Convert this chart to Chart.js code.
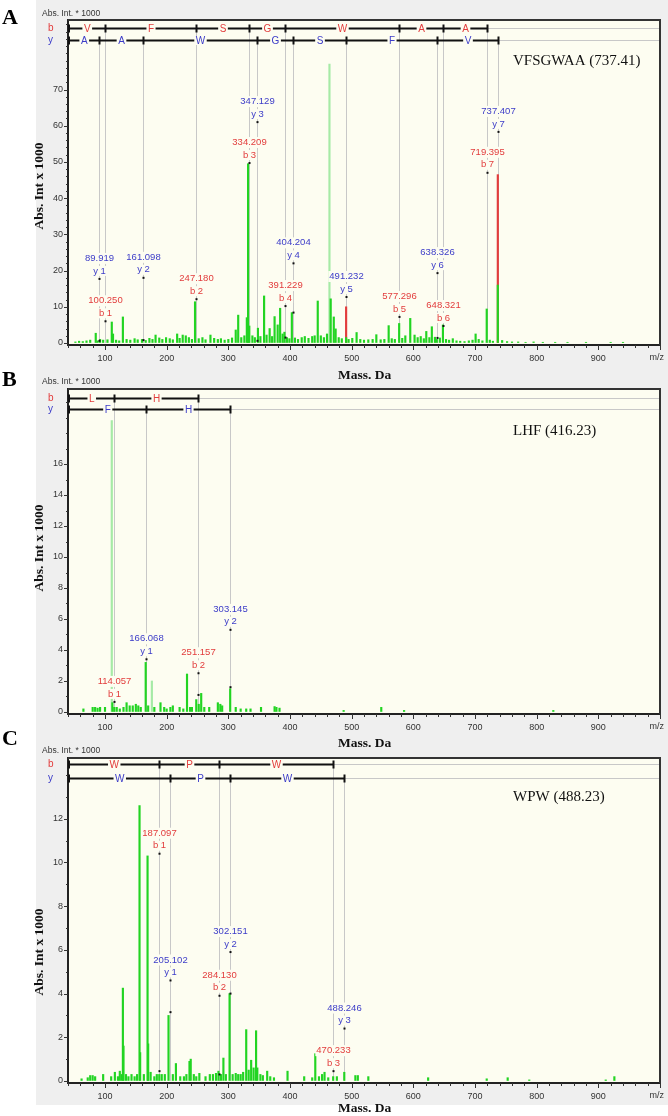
<!DOCTYPE html>
<html><head><meta charset="utf-8">
<script src="https://cdn.jsdelivr.net/npm/chart.js@4.4.1/dist/chart.umd.min.js"></script>
<style>
html,body{margin:0;padding:0;background:#fff;}
body{width:668px;height:1116px;position:relative;overflow:hidden;}
.g{position:absolute;left:36px;width:632px;background:#efefef;}
canvas{position:absolute;left:0;top:0;}
</style></head><body>
<div class="g" style="top:0;height:383px"></div>
<div class="g" style="top:383px;height:365px"></div>
<div class="g" style="top:748px;height:357px"></div>
<canvas id="cA" width="668" height="1116"></canvas>
<canvas id="cB" width="668" height="1116"></canvas>
<canvas id="cC" width="668" height="1116"></canvas>
<script>
// ---------- Panel A : VFSGWAA ----------
const aMz  = [52,58,64,70,76,85,88,92,97,104,111,113,118,123,129,135,141,148,153,160,166,172,177,182,188,193,199,205,210,217,221,226,231,236,241,246,252,258,263,271,277,283,288,294,300,306,312,316,321,326,330,332,334,339,343,348,352,358,362,367,371,375,380,384,388,391,395,399,403,408,413,419,424,430,436,440,445,450,455,460,466,471,474,479,484,491,495,501,508,514,520,527,534,540,547,553,560,565,570,577,582,587,595,602,607,612,617,621,626,630,635,638,643,648,653,658,664,670,676,683,690,696,701,706,712,719,724,729,737,744,752,760,770,782,795,810,830,850,880,920,940];
const aInt = [0.3,0.5,0.4,0.6,0.8,2.7,0.6,1.0,0.8,0.9,5.8,2.5,0.8,0.6,7.2,1.0,0.8,1.2,0.9,1.0,0.7,1.3,1.0,2.2,1.4,1.0,1.5,1.2,0.9,2.5,1.3,2.2,2.0,1.5,1.0,11.4,1.2,1.5,0.9,2.2,1.3,1.0,1.2,0.8,1.0,1.4,3.6,7.7,1.5,2.0,7.0,49.5,4.7,2.0,1.5,4.1,1.8,13.0,2.2,4.0,1.8,7.3,5.0,9.6,2.5,3.0,1.5,1.2,8.4,1.4,1.0,1.5,1.8,1.3,1.8,2.0,11.6,2.0,1.5,2.5,12.2,7.2,3.9,1.5,1.2,1.5,1.0,1.3,2.9,1.0,0.8,0.9,1.0,2.3,0.9,1.0,4.8,1.2,1.0,5.4,1.3,2.0,6.8,2.2,1.5,1.8,1.2,3.2,1.5,4.5,1.6,1.0,1.4,5.0,1.0,0.8,1.2,0.6,0.5,0.4,0.6,0.8,2.5,1.0,0.6,9.4,0.8,0.5,16,0.7,0.4,0.3,0.3,0.2,0.3,0.2,0.2,0.2,0.2,0.2,0.2];
const aFaintMz = [464], aFaintInt = [77];
const aRedMz = [491, 737], aRedInt = [10, 46.5];
const aAnnMz  = [89.919,100.250,161.098,247.180,334.209,347.129,391.229,404.204,491.232,577.296,638.326,648.321,719.395,737.407];
const aAnnIon = ['y 1','b 1','y 2','b 2','b 3','y 3','b 4','y 4','y 5','b 5','y 6','b 6','b 7','y 7'];
const aAnnAt  = [17.7,6,18,12.1,49.7,61,10.2,22,12.7,7.2,19.3,4.7,47,58.3];
const aDotMz = [89.919,161.098,347.129,391.229,404.204,638.326], aDotInt = [0.6,0.8,0.6,1.5,8.4,1.4];
const aBCuts = [100.250,247.180,334.209,391.229,577.296,648.321,719.395], aBRes = ['V','F','S','G','W','A','A'];
const aYCuts = [89.919,161.098,347.129,404.204,491.232,638.326,737.407], aYRes = ['A','A','W','G','S','F','V'];

// ---------- Panel B : LHF ----------
const bMz  = [65,80,84,88,92,100,112,115,119,124,130,135,140,145,150,154,158,166,170,180,190,196,200,206,210,221,227,233,238,241,248,252,256,261,269,283,287,290,303,312,320,329,336,353,375,378,383,487,548,585,827];
const bInt = [0.2,0.3,0.3,0.25,0.3,0.3,0.6,0.3,0.3,0.2,0.3,0.6,0.4,0.4,0.5,0.4,0.3,3.2,0.4,0.3,0.6,0.3,0.2,0.3,0.4,0.3,0.2,2.45,0.3,0.3,0.8,0.5,1.2,0.3,0.3,0.6,0.5,0.4,1.5,0.3,0.2,0.2,0.2,0.3,0.35,0.3,0.25,0.1,0.3,0.1,0.1];
const bFaintMz = [111,176], bFaintInt = [18.8,2.0];
const bRedMz = [], bRedInt = [];
const bAnnMz  = [114.057,166.068,251.157,303.145];
const bAnnIon = ['b 1','y 1','b 2','y 2'];
const bAnnAt  = [0.65,3.4,2.5,5.3];
const bDotMz = [251.157,303.145], bDotInt = [1.1,1.6];
const bBCuts = [114.057,251.157], bBRes = ['L','H'];
const bYCuts = [166.068,303.145], bYRes = ['F','H'];

// ---------- Panel C : WPW ----------
const cMz  = [62,72,76,80,84,97,110,116,121,124,127,129,130,134,138,143,148,152,156,157,163,169,170,174,180,184,188,192,197,203,210,215,222,228,232,237,239,244,248,253,263,270,275,280,284,288,292,296,302,307,312,316,320,324,329,333,337,341,345,347,352,356,363,368,374,396,423,436,441,447,452,456,462,470,476,488,506,510,527,624,719,753,788,912,926];
const cInt = [0.1,0.15,0.25,0.25,0.2,0.3,0.2,0.4,0.2,0.45,0.3,4.25,1.6,0.3,0.2,0.3,0.2,0.3,12.6,1.3,0.3,10.3,1.7,0.4,0.2,0.3,0.3,0.3,0.3,3.0,0.3,0.8,0.2,0.2,0.3,0.9,1.0,0.3,0.2,0.35,0.2,0.3,0.3,0.35,0.45,0.3,1.05,0.3,4.0,0.3,0.35,0.3,0.3,0.4,2.35,0.5,0.95,0.6,2.3,0.6,0.3,0.25,0.45,0.2,0.15,0.45,0.2,0.15,1.25,0.2,0.3,0.4,0.15,0.2,0.2,0.4,0.25,0.25,0.2,0.15,0.1,0.15,0.05,0.05,0.2];
const cFaintMz = [], cFaintInt = [];
const cRedMz = [], cRedInt = [];
const cAnnMz  = [187.097,205.102,284.130,302.151,470.233,488.246];
const cAnnIon = ['b 1','y 1','b 2','y 2','b 3','y 3'];
const cAnnAt  = [10.4,4.6,3.9,5.9,0.45,2.4];
const cDotMz = [187.097,205.102,284.130,302.151], cDotInt = [0.45,3.15,0.3,4.0];
const cBCuts = [187.097,284.130,470.233], cBRes = ['W','P','W'];
const cYCuts = [205.102,302.151,488.246], cYRes = ['W','P','W'];

const xTickLabels = ['100','200','300','400','500','600','700','800','900'];

// ---------- drawing helpers ----------
const CREAM = '#fdfdf1', LINEG = '#c8c8c8', RED = '#e23c3c', BLUE = '#3c3cc8', GREEN = '#22d422';
const SANS = '"Liberation Sans", Arial, sans-serif', SERIF = '"Liberation Serif", "Times New Roman", serif';

const panelPlugin = {
  id: 'panel',
  beforeDraw(chart) {
    const o = chart.options.plugins.panel, ctx = chart.ctx, ca = chart.chartArea;
    ctx.save();
    ctx.fillStyle = CREAM;
    ctx.fillRect(ca.left, ca.top, ca.right - ca.left, ca.bottom - ca.top);
    ctx.fillStyle = '#000';
    ctx.font = 'bold 22px ' + SERIF; ctx.textAlign = 'left'; ctx.textBaseline = 'middle';
    ctx.fillText(o.letter, 2, o.letterY);
    ctx.font = '8.5px ' + SANS; ctx.fillStyle = '#333';
    ctx.fillText('Abs. Int. * 1000', 42, o.headY);
    ctx.font = 'bold 13.5px ' + SERIF; ctx.fillStyle = '#111';
    ctx.save(); ctx.translate(40, o.yTitleY); ctx.rotate(-Math.PI / 2);
    ctx.textAlign = 'center'; ctx.fillText('Abs. Int x 1000', 0, 0); ctx.restore();
    ctx.textAlign = 'left';
    ctx.fillText('Mass. Da', 338, o.xTitleY);
    ctx.font = '10px ' + SANS;
    ctx.fillStyle = RED; ctx.fillText('b', 48, o.bRowY);
    ctx.fillStyle = BLUE; ctx.fillText('y', 48, o.yRowY);
    ctx.restore();
  },
  beforeDatasetsDraw(chart) {
    const o = chart.options.plugins.panel, ctx = chart.ctx, ca = chart.chartArea;
    const xs = chart.scales.x, ys = chart.scales.y, base = ys.getPixelForValue(0);
    ctx.save();
    ctx.strokeStyle = LINEG; ctx.lineWidth = 1;
    [o.bRowY, o.yRowY].forEach(y => { ctx.beginPath(); ctx.moveTo(ca.left, y + 0.5); ctx.lineTo(ca.right, y + 0.5); ctx.stroke(); });
    o.bCuts.forEach(m => { const x = Math.round(xs.getPixelForValue(m)) + 0.5; ctx.beginPath(); ctx.moveTo(x, o.bRowY); ctx.lineTo(x, base); ctx.stroke(); });
    o.yCuts.forEach(m => { const x = Math.round(xs.getPixelForValue(m)) + 0.5; ctx.beginPath(); ctx.moveTo(x, o.yRowY); ctx.lineTo(x, base); ctx.stroke(); });
    ctx.restore();
  },
  afterDatasetsDraw(chart) {
    const o = chart.options.plugins.panel, ctx = chart.ctx, ca = chart.chartArea;
    const xs = chart.scales.x, ys = chart.scales.y;
    ctx.save();
    // bracket rows
    const row = (y, cuts, res, col) => {
      const px = [ca.left + 1, ...cuts.map(m => Math.round(xs.getPixelForValue(m)) + 0.5)];
      ctx.strokeStyle = '#111'; ctx.lineWidth = 2;
      ctx.beginPath(); ctx.moveTo(px[0], y + 0.5); ctx.lineTo(px[px.length - 1], y + 0.5); ctx.stroke();
      px.forEach(x => { ctx.beginPath(); ctx.moveTo(x, y - 3.5); ctx.lineTo(x, y + 4.5); ctx.stroke(); });
      ctx.font = '10px ' + SANS; ctx.textAlign = 'center'; ctx.textBaseline = 'middle';
      res.forEach((r, i) => {
        const cx = (px[i] + px[i + 1]) / 2, w = ctx.measureText(r).width + 3;
        ctx.fillStyle = CREAM; ctx.fillRect(cx - w / 2, y - 4, w, 9);
        ctx.fillStyle = col; ctx.fillText(r, cx, y + 1);
      });
    };
    row(o.bRowY, o.bCuts, o.bRes, RED);
    row(o.yRowY, o.yCuts, o.yRes, BLUE);
    // peak labels
    ctx.font = '9.5px ' + SANS; ctx.textAlign = 'center'; ctx.textBaseline = 'middle';
    o.annMz.forEach((m, i) => {
      const x = Math.round(xs.getPixelForValue(m)) + 0.5, y = ys.getPixelForValue(o.annAt[i]);
      const col = o.annIon[i][0] === 'b' ? RED : BLUE;
      const t1 = m.toFixed(3), t2 = o.annIon[i];
      const w1 = ctx.measureText(t1).width + 2, w2 = ctx.measureText(t2).width + 2;
      ctx.fillStyle = CREAM;
      ctx.fillRect(x - w1 / 2, y - 26, w1, 11);
      ctx.fillRect(x - w2 / 2, y - 13, w2, 10);
      ctx.fillStyle = col;
      ctx.fillText(t1, x, y - 20.5);
      ctx.fillText(t2, x, y - 8);
      ctx.fillStyle = '#111'; ctx.fillRect(x - 1, y - 1, 2, 2);
    });
    o.dotMz.forEach((m, i) => {
      const x = Math.round(xs.getPixelForValue(m)) + 0.5, y = ys.getPixelForValue(o.dotInt[i]);
      ctx.fillStyle = '#111'; ctx.fillRect(x - 1, y - 1, 2, 2);
    });
    // peptide name
    ctx.font = '15px ' + SERIF; ctx.fillStyle = '#111'; ctx.textAlign = 'left';
    ctx.fillText(o.pep, 513, o.pepY);
    // frame top/right
    ctx.strokeStyle = '#333'; ctx.lineWidth = 2;
    ctx.beginPath(); ctx.moveTo(ca.left, ca.top); ctx.lineTo(ca.right, ca.top); ctx.lineTo(ca.right, ca.bottom); ctx.stroke();
    // axis ticks
    ctx.lineWidth = 1; ctx.strokeStyle = '#333';
    xs.ticks.forEach(t => {
      const x = Math.round(xs.getPixelForValue(t.value)) + 0.5, L = t.value % 100 === 0 ? 5 : 3;
      ctx.beginPath(); ctx.moveTo(x, ca.bottom); ctx.lineTo(x, ca.bottom + L); ctx.stroke();
    });
    ys.ticks.forEach(t => {
      if (t.value < 0) return;
      const y = Math.round(ys.getPixelForValue(t.value)) + 0.5, L = t.label !== '' ? 4 : 2;
      ctx.beginPath(); ctx.moveTo(ca.left - L, y); ctx.lineTo(ca.left, y); ctx.stroke();
    });
    ctx.font = '9px ' + SANS; ctx.fillStyle = '#333'; ctx.textAlign = 'right'; ctx.textBaseline = 'middle';
    ctx.fillText('m/z', 664, ca.bottom + 13);
    ctx.restore();
  }
};

function makePanel(id, o) {
  const pts = (mz, v) => mz.map((m, i) => ({ x: m, y: v[i] }));
  const H = 1116;
  new Chart(document.getElementById(id), {
    type: 'bar',
    data: { datasets: [
      { data: pts(o.faintMz, o.faintInt), backgroundColor: '#a6eaa6', order: 3 },
      { data: pts(o.redMz, o.redInt), backgroundColor: RED, order: 2 },
      { data: pts(o.mz, o.inten), backgroundColor: GREEN, order: 1 }
    ] },
    options: {
      responsive: false, animation: false, events: [],
      layout: { padding: { left: 0, right: 5, top: o.frameTop, bottom: H - o.axisY - 33 } },
      datasets: { bar: { grouped: false, barThickness: 1.5, borderWidth: 0 } },
      plugins: { legend: { display: false }, tooltip: { enabled: false }, panel: o },
      scales: {
        x: { type: 'linear', min: 40, max: 1000, offset: false,
             afterFit: s => { s.height = 33; },
             grid: { display: true, drawOnChartArea: false, drawTicks: false },
             border: { display: true, color: '#222', width: 2 },
             ticks: { stepSize: 20, autoSkip: false, maxRotation: 0, includeBounds: false, padding: 8,
                      color: '#333', font: { family: SANS, size: 9 },
                      callback: v => { const s = String(v); return xTickLabels.includes(s) ? s : ''; } } },
        y: { min: o.yMin, max: o.yMax,
             afterFit: s => { s.width = 68; },
             grid: { display: true, drawOnChartArea: false, drawTicks: false },
             border: { display: true, color: '#222', width: 2 },
             ticks: { stepSize: o.yStep, autoSkip: false, includeBounds: false, padding: 5,
                      color: '#333', font: { family: SANS, size: 9 },
                      callback: v => (v >= 0 && Math.abs(v / o.yLab - Math.round(v / o.yLab)) < 1e-6 && v <= o.yLabMax) ? String(Math.round(v)) : '' } }
      }
    },
    plugins: [panelPlugin]
  });
}

makePanel('cA', { letter: 'A', letterY: 18, headY: 14, frameTop: 20, axisY: 345, yMin: -0.55, yMax: 89.2, yStep: 2, yLab: 10, yLabMax: 70,
  yTitleY: 186, xTitleY: 376, bRowY: 28, yRowY: 40, pep: 'VFSGWAA (737.41)', pepY: 61,
  mz: aMz, inten: aInt, faintMz: aFaintMz, faintInt: aFaintInt, redMz: aRedMz, redInt: aRedInt,
  annMz: aAnnMz, annIon: aAnnIon, annAt: aAnnAt, dotMz: aDotMz, dotInt: aDotInt,
  bCuts: aBCuts, bRes: aBRes, yCuts: aYCuts, yRes: aYRes });
makePanel('cB', { letter: 'B', letterY: 380, headY: 382, frameTop: 389, axisY: 714, yMin: -0.13, yMax: 20.84, yStep: 1, yLab: 2, yLabMax: 16,
  yTitleY: 548, xTitleY: 744, bRowY: 398, yRowY: 409, pep: 'LHF (416.23)', pepY: 431,
  mz: bMz, inten: bInt, faintMz: bFaintMz, faintInt: bFaintInt, redMz: bRedMz, redInt: bRedInt,
  annMz: bAnnMz, annIon: bAnnIon, annAt: bAnnAt, dotMz: bDotMz, dotInt: bDotInt,
  bCuts: bBCuts, bRes: bBRes, yCuts: bYCuts, yRes: bYRes });
makePanel('cC', { letter: 'C', letterY: 739, headY: 751, frameTop: 758, axisY: 1083, yMin: -0.092, yMax: 14.78, yStep: 1, yLab: 2, yLabMax: 12,
  yTitleY: 952, xTitleY: 1109, bRowY: 764, yRowY: 778, pep: 'WPW (488.23)', pepY: 797,
  mz: cMz, inten: cInt, faintMz: cFaintMz, faintInt: cFaintInt, redMz: cRedMz, redInt: cRedInt,
  annMz: cAnnMz, annIon: cAnnIon, annAt: cAnnAt, dotMz: cDotMz, dotInt: cDotInt,
  bCuts: cBCuts, bRes: cBRes, yCuts: cYCuts, yRes: cYRes });
</script>
</body></html>
